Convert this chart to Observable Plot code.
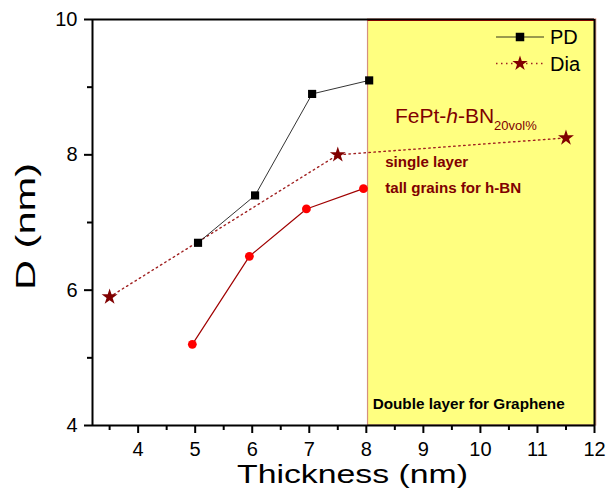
<!DOCTYPE html>
<html>
<head>
<meta charset="utf-8">
<script src="https://cdn.jsdelivr.net/npm/d3@7"></script>
<script src="https://cdn.jsdelivr.net/npm/@observablehq/plot@0.6"></script>
<style>
  html, body { margin: 0; padding: 0; background: #fff; }
  #chart svg { font-family: "Liberation Sans", Arial, sans-serif; }
</style>
</head>
<body>
<div id="chart"></div>
<script>
// ---- data ----
const pdX = [5.05, 6.05, 7.05, 8.05];
const pdY = [6.7, 7.4, 8.9, 9.1];
const redX = [4.95, 5.95, 6.95, 7.95];
const redY = [5.2, 6.5, 7.2, 7.5];
const diaX = [3.5, 7.5, 11.5];
const diaY = [5.9, 8.0, 8.25];
const xTicks = [4, 5, 6, 7, 8, 9, 10, 11, 12];
const xMinor = [3.5, 4.5, 5.5, 6.5, 7.5, 8.5, 9.5, 10.5, 11.5];
const yTicks = [4, 6, 8, 10];
const yMinor = [5, 7, 9];
const region = [{x1: 8.03, x2: 12.03, y1: 4, y2: 10}];
const legendNames = ["PD", "Dia"];

const pd = pdX.map((x, i) => ({x, y: pdY[i]}));
const red = redX.map((x, i) => ({x, y: redY[i]}));
const dia = diaX.map((x, i) => ({x, y: diaY[i]}));

const maroon = "#800000";

const plot = Plot.plot({
  width: 609,
  height: 497,
  marginLeft: 92,
  marginRight: 15,
  marginTop: 19,
  marginBottom: 72,
  style: {fontFamily: "Liberation Sans, Arial, sans-serif", background: "#fff"},
  x: {domain: [3.2, 12]},
  y: {domain: [4, 10]},
  marks: [
    Plot.rect(region, {x1: "x1", x2: "x2", y1: "y1", y2: "y2", fill: "#ffff80", stroke: "#d49080", strokeWidth: 1.2}),
    Plot.ruleY([10], {x1: 3.2, x2: 12, stroke: "#000", strokeWidth: 2}),
    Plot.ruleY([10], {x1: 8.03, x2: 12, stroke: maroon, strokeWidth: 1.2, dy: 1}),
    Plot.ruleX([3.2], {stroke: "#000", strokeWidth: 2}),
    Plot.ruleX([12], {stroke: "#000", strokeWidth: 2}),
    Plot.ruleY([4], {stroke: "#000", strokeWidth: 2}),
    Plot.axisX({ticks: xTicks, tickSize: 8, tickPadding: 8, fontSize: 20, label: null, tickFormat: d => d, stroke: "#000", strokeWidth: 2, fill: "#000"}),
    Plot.axisX({ticks: xMinor, tickSize: 5, text: null, label: null, strokeWidth: 2}),
    Plot.axisY({ticks: yTicks, tickSize: 8, tickPadding: 7, fontSize: 20, label: null, tickFormat: d => d, strokeWidth: 2, fill: "#000"}),
    Plot.axisY({ticks: yMinor, tickSize: 5, text: null, label: null, strokeWidth: 2}),
    Plot.line(dia, {x: "x", y: "y", stroke: "#a02020", strokeWidth: 1.4, strokeDasharray: "1.5 3.5"}),
    Plot.line(pd, {x: "x", y: "y", stroke: "#000", strokeWidth: 0.8}),
    Plot.line(red, {x: "x", y: "y", stroke: "#a00000", strokeWidth: 1.2}),
    Plot.dot(pd, {x: "x", y: "y", symbol: "square", r: 4.6, fill: "#000"}),
    Plot.dot(red, {x: "x", y: "y", symbol: "circle", r: 4.4, fill: "#ff0000"}),
    Plot.dot(dia, {x: "x", y: "y", symbol: "star", r: 5, fill: maroon})
  ]
});

document.getElementById("chart").appendChild(plot);

const svg = d3.select(plot);
svg.selectAll('g[aria-label="x-axis tick label"] text, g[aria-label="y-axis tick label"] text')
  .attr("font-size", 20).attr("fill", "#000");
const sx = plot.scale("x"), sy = plot.scale("y");

// FePt-h-BN label with subscript
const lab = svg.append("text")
  .attr("x", sx.apply(8.51)).attr("y", sy.apply(8.46)).attr("text-anchor", "start")
  .attr("fill", maroon).attr("font-size", 21);
lab.append("tspan").text("FePt-");
lab.append("tspan").attr("font-style", "italic").text("h");
lab.append("tspan").text("-BN");
lab.append("tspan").attr("font-size", 13).attr("dy", 7).text("20vol%");

const notes = [
  {t: "single layer", x: 8.34, y: 7.81, w: 83, fill: maroon, fs: 14.5},
  {t: "tall grains for h-BN", x: 8.34, y: 7.43, w: 136, fill: maroon, fs: 14.5},
  {t: "Double layer for Graphene", x: 8.12, y: 4.24, w: 192, fill: "#000", fs: 14.5}
];
notes.forEach(n => {
  svg.append("text").attr("x", sx.apply(n.x)).attr("y", sy.apply(n.y)).attr("text-anchor", "start")
    .attr("font-size", n.fs).attr("font-weight", "bold").attr("fill", n.fill)
    .attr("textLength", n.w).attr("lengthAdjust", "spacingAndGlyphs").text(n.t);
});

// legend
const leg = svg.append("g");
const lx0 = 496, lx1 = 544;
const rows = [
  {name: legendNames[0], y: 37, stroke: "#000", dash: null, sym: "square", fill: "#000", w: 0.8},
  {name: legendNames[1], y: 63.5, stroke: "#a02020", dash: "1.5 3.5", sym: "star", fill: maroon, w: 1.4}
];
rows.forEach(r => {
  leg.append("line").attr("x1", lx0).attr("x2", lx1).attr("y1", r.y).attr("y2", r.y)
    .attr("stroke", r.stroke).attr("stroke-width", r.w).attr("stroke-dasharray", r.dash);
  const sym = r.sym === "square" ? d3.symbolSquare : d3.symbolStar;
  leg.append("path").attr("d", d3.symbol(sym, 4.8 * 4.8 * Math.PI)())
    .attr("transform", `translate(${(lx0 + lx1) / 2},${r.y})`).attr("fill", r.fill);
  leg.append("text").attr("x", 550).attr("y", r.y).attr("dy", "0.36em").attr("text-anchor", "start")
    .attr("font-size", 20).attr("fill", "#000").text(r.name);
});

// axis titles
svg.append("text").attr("x", 237).attr("y", 483).attr("text-anchor", "start")
  .attr("font-size", 26).attr("fill", "#000")
  .attr("textLength", 231).attr("lengthAdjust", "spacingAndGlyphs").text("Thickness (nm)");
svg.append("text").attr("transform", "translate(35,290) rotate(-90)").attr("text-anchor", "start")
  .attr("font-size", 27).attr("fill", "#000")
  .attr("textLength", 127).attr("lengthAdjust", "spacingAndGlyphs").text("D (nm)");
</script>
</body>
</html>
